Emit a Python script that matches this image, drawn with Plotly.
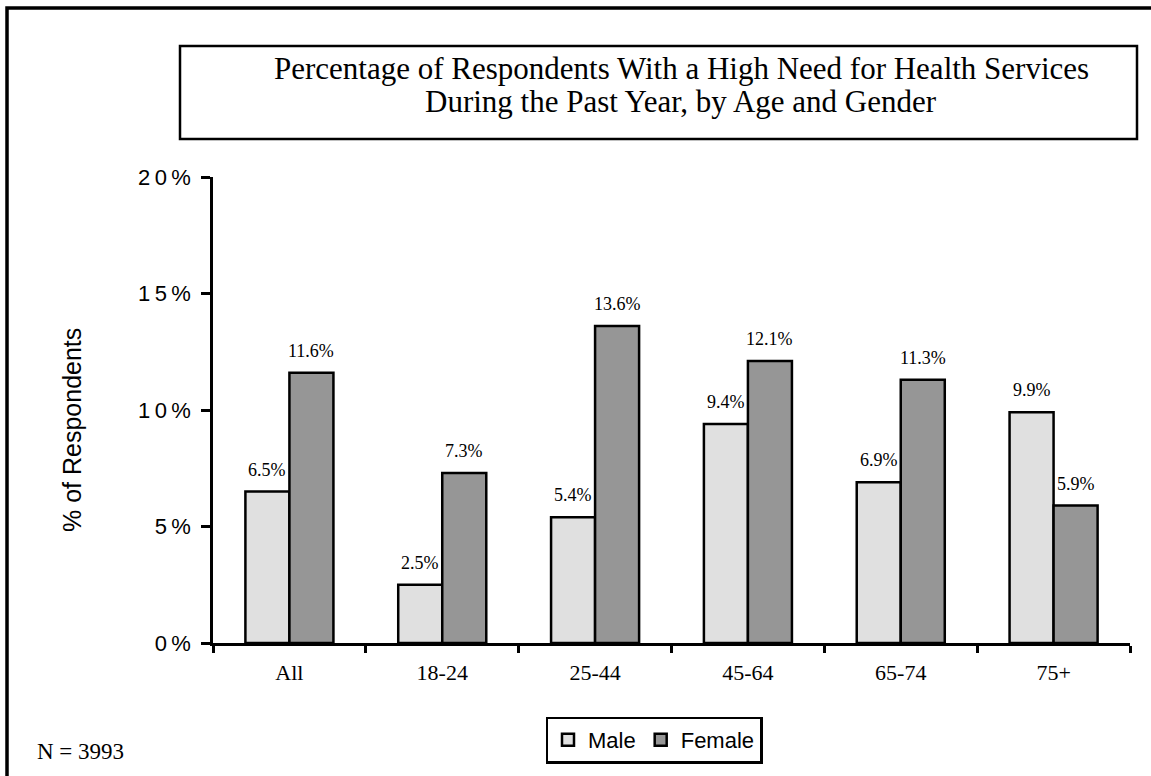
import plotly.graph_objects as go

categories = ["All", "18-24", "25-44", "45-64", "65-74", "75+"]
male = [6.5, 2.5, 5.4, 9.4, 6.9, 9.9]
female = [11.6, 7.3, 13.6, 12.1, 11.3, 5.9]
male_labels = ["6.5%", "2.5%", "5.4%", "9.4%", "6.9%", "9.9%"]
female_labels = ["11.6%", "7.3%", "13.6%", "12.1%", "11.3%", "5.9%"]
ytick_vals = [0, 5, 10, 15, 20]
ytick_text = ["0\u2009%", "5\u2009%", "1\u20090\u2009%", "1\u20095\u2009%", "2\u20090\u2009%"]
title_lines = ["Percentage of Respondents With a High Need for Health Services",
               "During the Past Year, by Age and Gender"]

W, H = 1151, 776
L, R, T, B = 213, 1130, 177, 643


def px(x):
    return (x - L) / (R - L)


def py(y):
    return (B - y) / (B - T)


fig = go.Figure()
fig.add_trace(go.Bar(name="Male", x=categories, y=male,
                     marker=dict(color="#e0e0e0", line=dict(color="black", width=2.5))))
fig.add_trace(go.Bar(name="Female", x=categories, y=female,
                     marker=dict(color="#969696", line=dict(color="black", width=2.5))))

serif = "Liberation Serif, Times New Roman, serif"
sans = "Liberation Sans, Arial, sans-serif"

ann = []
for c, v, t in zip(categories, male, male_labels):
    ann.append(dict(x=c, y=v, xref="x", yref="y", text=t, showarrow=False,
                    xshift=-22, yshift=22, font=dict(family=serif, size=18, color="black")))
for c, v, t in zip(categories, female, female_labels):
    ann.append(dict(x=c, y=v, xref="x", yref="y", text=t, showarrow=False,
                    xshift=22, yshift=22, font=dict(family=serif, size=18, color="black")))

for line, yy in zip(title_lines, [69, 102]):
    ann.append(dict(x=px(681), y=py(yy), xref="paper", yref="paper", text=line,
                    showarrow=False, xanchor="center", yanchor="middle",
                    font=dict(family=serif, size=31, color="black")))
ann.append(dict(x=px(72), y=py(430), xref="paper", yref="paper", text="% of Respondents",
                showarrow=False, textangle=-90, xanchor="center", yanchor="middle",
                font=dict(family=sans, size=25, color="black")))
ann.append(dict(x=px(35), y=py(751), xref="paper", yref="paper", text="N = 3993",
                showarrow=False, xanchor="left", yanchor="middle",
                font=dict(family=serif, size=23, color="black")))

shapes = [
    dict(type="rect", xref="paper", yref="paper", x0=px(180), x1=px(1137), y0=py(46), y1=py(139),
         line=dict(color="black", width=2.5), fillcolor="rgba(0,0,0,0)"),
    dict(type="path", xref="paper", yref="paper",
         path=f"M {px(7)} {py(780)} L {px(7)} {py(8)} L {px(1160)} {py(8)}",
         line=dict(color="black", width=3.5)),
]

fig.update_layout(
    width=W, height=H,
    margin=dict(l=L, r=W - R, t=T, b=H - B),
    paper_bgcolor="white", plot_bgcolor="white",
    barmode="group", bargap=0.424, bargroupgap=0,
    showlegend=True,
    legend=dict(orientation="h", x=px(654), y=py(740), xanchor="center", yanchor="middle",
                bordercolor="black", borderwidth=2.5, bgcolor="white",
                font=dict(family=sans, size=22, color="black"),
                itemwidth=30, tracegroupgap=0),
    xaxis=dict(showline=True, linecolor="black", linewidth=2.5, ticks="outside",
               ticklen=7, tickwidth=2.5, tickcolor="black", tickson="boundaries",
               ticklabelstandoff=8,
               showgrid=False, tickfont=dict(family=serif, size=22, color="black")),
    yaxis=dict(range=[0, 20], tickvals=ytick_vals, ticktext=ytick_text,
               showline=True, linecolor="black", linewidth=2.5, ticks="outside",
               ticklen=9, tickwidth=2.5, tickcolor="black", showgrid=False, zeroline=False,
               ticklabelstandoff=6,
               tickfont=dict(family=sans, size=22, color="black")),
    annotations=ann,
    shapes=shapes,
)

fig.write_html("out.html")
